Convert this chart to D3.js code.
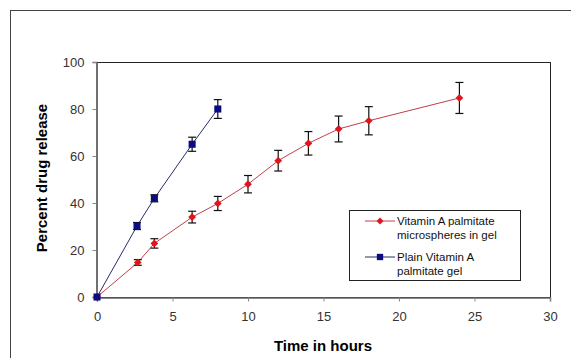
<!DOCTYPE html>
<html lang="en">
  <head>
    <meta charset="utf-8">
    <script src="https://d3js.org/d3.v7.min.js"></script>
    <title>Drug release</title>
    <style>
      body { margin: 0; background: #fff; }
      text { font-family: "Liberation Sans", Arial, sans-serif; }
    </style>
  </head>
  <body>
    <script>

      // data
      var hoursMicro = [0, 2.7, 3.8, 6.3, 8, 10, 12, 14, 16, 18, 24];
      var releaseMicro = [0, 14.7, 22.8, 34, 39.8, 48, 58, 65.4, 71.5, 75, 84.7];
      var errMicro = [0, 1.2, 2, 2.5, 3, 3.7, 4.4, 5, 5.5, 6, 6.6];

      var hoursPlain = [0, 2.65, 3.8, 6.3, 8];
      var releasePlain = [0, 30.2, 42, 65, 80];
      var errPlain = [0, 1.5, 1.5, 3, 4];

      var xTicks = [0, 5, 10, 15, 20, 25, 30];
      var yTicks = [0, 20, 40, 60, 80, 100];

      var seriesNames = [["Vitamin A palmitate", "microspheres in gel"],
                         ["Plain Vitamin A", "palmitate gel"]];

      var width = 571, height = 358;
      var plotLeft = 97, plotRight = 550, plotTop = 62, plotBottom = 297;

      var svg = d3.select("body").append("svg")
        .attr("width", width).attr("height", height);

      // outer frame of the chart area
      svg.append("rect").attr("x", 10.5).attr("y", 10.5)
        .attr("width", 580).attr("height", 400)
        .style("fill", "none").style("stroke", "#444").style("stroke-width", 1);

      var x = d3.scaleLinear().domain([0, 30]).range([plotLeft, plotRight]);
      var y = d3.scaleLinear().domain([0, 100]).range([plotBottom, plotTop]);

      // plot border
      svg.append("rect").attr("x", plotLeft).attr("y", plotTop + 0.5)
        .attr("width", plotRight - plotLeft + 0.5).attr("height", plotBottom - plotTop)
        .style("fill", "none").style("stroke", "#222").style("stroke-width", 1);

      // axes
      var xAxis = d3.axisBottom(x).tickValues(xTicks).tickSize(4).tickPadding(10);
      var gx = svg.append("g").attr("transform", "translate(0," + (plotBottom + 0.5) + ")").call(xAxis);

      var yAxis = d3.axisLeft(y).tickValues(yTicks).tickSize(4).tickPadding(8);
      var gy = svg.append("g").attr("transform", "translate(" + (plotLeft - 0.5) + ",0)").call(yAxis);

      [gx, gy].forEach(function(g){
        g.select(".domain").style("stroke", "#666").style("stroke-width", 1.5);
        g.selectAll(".tick line").style("stroke", "#888");
        g.selectAll(".tick text").style("font-size", "13px").style("fill", "#333")
          .style("font-family", "'Liberation Sans', Arial, sans-serif");
      });

      // axis titles
      svg.append("text").attr("x", 323).attr("y", 351)
        .attr("text-anchor", "middle").style("font-size", "15px").style("font-weight", "bold")
        .text("Time in hours");

      svg.append("text").attr("transform", "translate(47,178) rotate(-90)")
        .attr("text-anchor", "middle").style("font-size", "15px").style("font-weight", "bold")
        .text("Percent drug release");

      // diamond drawn as a turned square so it is not too tall
      function marker(shape, size) {
        return d3.symbol().type(shape === "diamond" ? d3.symbolSquare : d3.symbolSquare).size(size)();
      }

      function drawSeries(xs, ys, errs, lineColor, markColor, shape) {
        var pts = xs.map(function(d, i){ return {t: d, v: ys[i], e: errs[i]}; });

        var line = d3.line().x(function(d){ return x(d.t); }).y(function(d){ return y(d.v); });
        svg.append("path").datum(pts).attr("d", line)
          .style("fill", "none").style("stroke", lineColor).style("stroke-width", 1);

        // error bars
        var eb = svg.append("g").selectAll("g").data(pts.filter(function(d){ return d.e > 0; }))
          .enter().append("g").style("stroke", "#111").style("stroke-width", 1.2);
        eb.append("line")
          .attr("x1", function(d){ return x(d.t); }).attr("x2", function(d){ return x(d.t); })
          .attr("y1", function(d){ return y(d.v + d.e); }).attr("y2", function(d){ return y(d.v - d.e); });
        eb.append("line")
          .attr("x1", function(d){ return x(d.t) - 4; }).attr("x2", function(d){ return x(d.t) + 4; })
          .attr("y1", function(d){ return y(d.v + d.e); }).attr("y2", function(d){ return y(d.v + d.e); });
        eb.append("line")
          .attr("x1", function(d){ return x(d.t) - 4; }).attr("x2", function(d){ return x(d.t) + 4; })
          .attr("y1", function(d){ return y(d.v - d.e); }).attr("y2", function(d){ return y(d.v - d.e); });

        svg.append("g").selectAll("path").data(pts).enter().append("path")
          .attr("transform", function(d){
            return "translate(" + x(d.t) + "," + y(d.v) + ")" + (shape === "diamond" ? " rotate(45)" : "");
          })
          .attr("d", marker(shape, shape === "diamond" ? 30 : 50))
          .style("fill", markColor);
      }

      drawSeries(hoursMicro, releaseMicro, errMicro, "#c0404a", "#e0141c", "diamond");
      drawSeries(hoursPlain, releasePlain, errPlain, "#2a2a6a", "#0c0c80", "square");

      // legend
      var lg = svg.append("g");
      lg.append("rect").attr("x", 349.5).attr("y", 210.5).attr("width", 171).attr("height", 70)
        .style("fill", "#fff").style("stroke", "#222").style("stroke-width", 1);

      var legendItems = [
        {names: seriesNames[0], line: "#c0404a", mark: "#e0141c", shape: "diamond", y0: 221},
        {names: seriesNames[1], line: "#2a2a6a", mark: "#0c0c80", shape: "square", y0: 257}
      ];
      legendItems.forEach(function(it){
        lg.append("line").attr("x1", 365).attr("x2", 395).attr("y1", it.y0).attr("y2", it.y0)
          .style("stroke", it.line).style("stroke-width", 1);
        lg.append("path")
          .attr("transform", "translate(380," + it.y0 + ")" + (it.shape === "diamond" ? " rotate(45)" : ""))
          .attr("d", marker(it.shape, it.shape === "diamond" ? 24 : 40))
          .style("fill", it.mark);
        it.names.forEach(function(n, j){
          lg.append("text").attr("x", 397).attr("y", it.y0 + 4 + j * 14)
            .style("font-size", "11.5px").style("fill", "#111").text(n);
        });
      });

    </script>
  </body>
</html>
